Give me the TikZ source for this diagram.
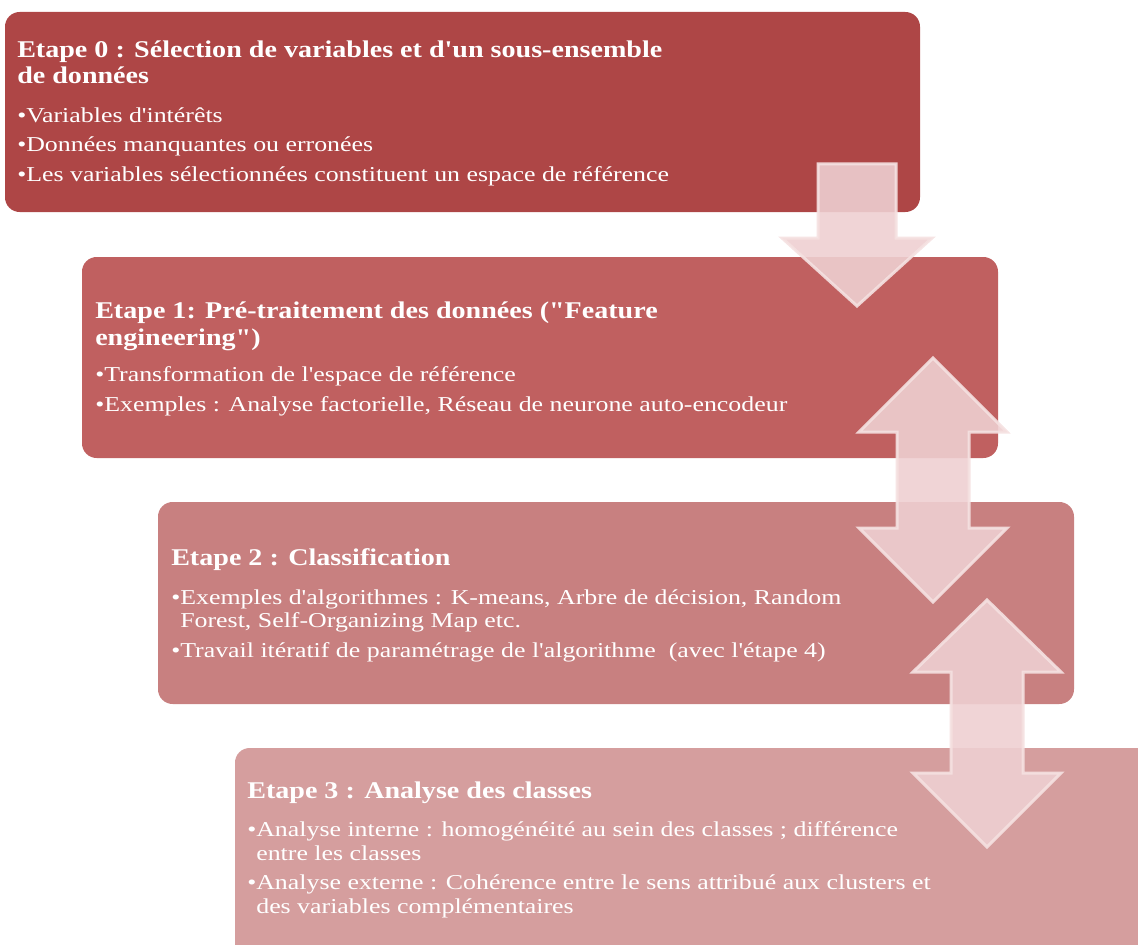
\documentclass[tikz,border=0pt]{standalone}
\usepackage{fontspec}
\newfontfamily\titlefont{Liberation Serif}[FakeStretch=1.17]
\newfontfamily\bodyfont{Liberation Serif}[FakeStretch=1.22]
\usetikzlibrary{positioning}
\definecolor{stepzero}{RGB}{174,70,70}
\definecolor{stepone}{RGB}{192,96,96}
\definecolor{steptwo}{RGB}{200,128,128}
\definecolor{stepthree}{RGB}{213,158,158}
\definecolor{arrowfill}{RGB}{238,207,209}
\definecolor{arrowline}{RGB}{245,225,225}
\newcommand{\bul}{\textbullet}
\newcommand{\hang}{\hphantom{\textbullet}}
\newcommand{\itemgap}{\\[4.5pt]}

\begin{document}
\begin{tikzpicture}[x=0.75pt, y=-0.75pt,
    steptitle/.style={anchor=base west, inner sep=0pt, align=left, text=white,
        font=\titlefont\fontsize{18}{20}\selectfont\bfseries},
    stepbody/.style={anchor=base west, inner sep=0pt, align=left, text=white,
        font=\bodyfont\fontsize{15.9}{17.6}\selectfont},
    stepcard/.style={rounded corners=11pt},
    blockarrow/.style={fill=arrowfill, draw=arrowline, line width=2.25pt,
        fill opacity=0.9, draw opacity=0.9, line join=miter}]
    \useasboundingbox (0,0) rectangle (1138,945);

    % Step boxes
    \fill[stepzero, stepcard] (5,12) rectangle (920,212);
    \fill[stepone, stepcard] (82,257) rectangle (998,458);
    \fill[steptwo, stepcard] (158,502) rectangle (1074,704);
    \fill[stepthree, stepcard] (235,748) rectangle (1170,990);

    % Step 0 (nodes anchored at the baseline of their last line)
    \node[steptitle] (title0) at (17,84) {Etape 0 : Sélection de variables et d'un sous-ensemble\\de données};
    \node[stepbody] (body0) at (17,181) {\bul Variables d'intérêts\itemgap
        \bul Données manquantes ou erronées\itemgap
        \bul Les variables sélectionnées constituent un espace de référence};

    % Step 1
    \node[steptitle] (title1) at (95,345) {Etape 1: Pré-traitement des données ("Feature\\engineering")};
    \node[stepbody] (body1) at (95,411) {\bul Transformation de l'espace de référence\itemgap
        \bul Exemples : Analyse factorielle, Réseau de neurone auto-encodeur};

    % Step 2
    \node[steptitle] (title2) at (171,565) {Etape 2 : Classification};
    \node[stepbody] (body2) at (171,657) {\bul Exemples d'algorithmes : K-means, Arbre de décision, Random\\
        \hang Forest, Self-Organizing Map etc.\itemgap
        \bul Travail itératif de paramétrage de l'algorithme~ (avec l'étape 4)};

    % Step 3
    \node[steptitle] (title3) at (247,798) {Etape 3 : Analyse des classes};
    \node[stepbody] (body3) at (247,913) {\bul Analyse interne : homogénéité au sein des classes ; différence\\
        \hang entre les classes\itemgap
        \bul Analyse externe : Cohérence entre le sens attribué aux clusters et\\
        \hang des variables complémentaires};

    % Arrows between steps
    \filldraw[blockarrow] (818,164) -- (896,164) -- (896,238) -- (932,238) -- (857,306)
        -- (782,238) -- (818,238) -- cycle;
    \filldraw[blockarrow] (933,358) -- (1007,432) -- (969,432) -- (969,528) -- (1007,528)
        -- (933,602) -- (859,528) -- (897,528) -- (897,432) -- (859,432) -- cycle;
    \filldraw[blockarrow] (987,600) -- (1061,672) -- (1023,672) -- (1023,773) -- (1061,773)
        -- (987,847) -- (913,773) -- (951,773) -- (951,672) -- (913,672) -- cycle;
\end{tikzpicture}
\end{document}
